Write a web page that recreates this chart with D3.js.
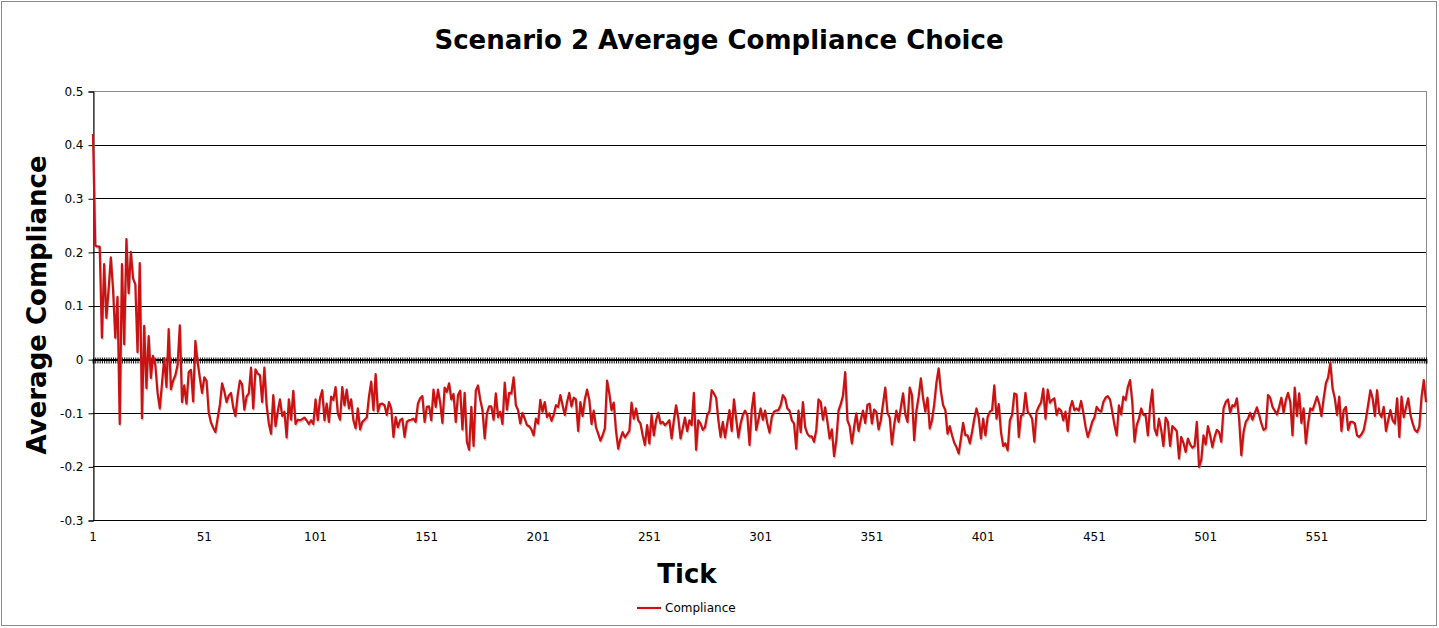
<!DOCTYPE html>
<html><head><meta charset="utf-8">
<script src="https://cdn.jsdelivr.net/npm/d3@7/dist/d3.min.js"></script>
<style>html,body{margin:0;padding:0;background:#fff;}svg{display:block;}</style>
</head><body>
<svg id="chart" width="1439" height="628"></svg>
<script>
const title = "Scenario 2 Average Compliance Choice";
const yTitle = "Average Compliance";
const xTitle = "Tick";
const seriesName = "Compliance";
const yTicks = [0.5, 0.4, 0.3, 0.2, 0.1, 0, -0.1, -0.2, -0.3];
const xTickLabels = [1, 51, 101, 151, 201, 251, 301, 351, 401, 451, 501, 551];
const compliance = [
0.42,0.212,0.21,0.21,0.04,0.177,0.077,0.13,0.19,0.13,
0.04,0.116,-0.121,0.177,0.028,0.224,0.123,0.2,0.15,0.14,
0.013,0.179,-0.11,0.062,-0.054,0.043,-0.035,0.006,-0.011,-0.063,
-0.092,-0.045,0.002,-0.052,0.056,-0.056,-0.04,-0.03,-0.011,0.063,
-0.08,-0.049,-0.083,-0.024,-0.02,-0.079,0.034,-0.005,-0.035,-0.063,
-0.034,-0.04,-0.1,-0.118,-0.128,-0.136,-0.11,-0.085,-0.045,-0.06,
-0.08,-0.068,-0.063,-0.09,-0.106,-0.067,-0.04,-0.047,-0.094,-0.07,
-0.064,-0.016,-0.092,-0.019,-0.027,-0.03,-0.08,-0.016,-0.086,-0.12,
-0.139,-0.067,-0.125,-0.098,-0.075,-0.106,-0.098,-0.146,-0.075,-0.113,
-0.059,-0.121,-0.113,-0.114,-0.112,-0.109,-0.114,-0.121,-0.114,-0.121,
-0.075,-0.114,-0.073,-0.058,-0.114,-0.083,-0.117,-0.07,-0.076,-0.052,
-0.101,-0.113,-0.052,-0.086,-0.057,-0.092,-0.075,-0.114,-0.129,-0.092,
-0.131,-0.117,-0.113,-0.109,-0.07,-0.042,-0.095,-0.028,-0.098,-0.084,
-0.083,-0.086,-0.104,-0.08,-0.092,-0.145,-0.108,-0.127,-0.114,-0.111,
-0.145,-0.117,-0.114,-0.113,-0.111,-0.117,-0.083,-0.073,-0.069,-0.117,
-0.089,-0.088,-0.114,-0.057,-0.089,-0.057,-0.081,-0.119,-0.053,-0.061,
-0.045,-0.075,-0.065,-0.117,-0.067,-0.059,-0.131,-0.063,-0.154,-0.169,
-0.089,-0.162,-0.059,-0.049,-0.076,-0.095,-0.148,-0.101,-0.088,-0.088,
-0.113,-0.064,-0.108,-0.098,-0.121,-0.044,-0.094,-0.063,-0.064,-0.034,
-0.086,-0.095,-0.12,-0.1,-0.111,-0.123,-0.125,-0.131,-0.142,-0.111,
-0.12,-0.076,-0.098,-0.08,-0.108,-0.101,-0.115,-0.104,-0.086,-0.089,
-0.067,-0.086,-0.104,-0.08,-0.063,-0.088,-0.072,-0.075,-0.134,-0.08,
-0.106,-0.075,-0.057,-0.076,-0.121,-0.096,-0.127,-0.139,-0.152,-0.142,
-0.129,-0.04,-0.064,-0.095,-0.081,-0.134,-0.167,-0.148,-0.136,-0.146,
-0.14,-0.134,-0.081,-0.111,-0.092,-0.114,-0.12,-0.142,-0.16,-0.123,
-0.157,-0.104,-0.142,-0.114,-0.1,-0.12,-0.117,-0.123,-0.119,-0.114,
-0.148,-0.114,-0.086,-0.11,-0.148,-0.129,-0.109,-0.134,-0.114,-0.123,
-0.063,-0.169,-0.114,-0.12,-0.132,-0.127,-0.104,-0.097,-0.058,-0.064,
-0.072,-0.114,-0.145,-0.117,-0.146,-0.12,-0.095,-0.134,-0.075,-0.111,
-0.146,-0.12,-0.104,-0.096,-0.104,-0.16,-0.094,-0.063,-0.132,-0.113,
-0.092,-0.113,-0.096,-0.12,-0.137,-0.108,-0.098,-0.096,-0.095,-0.086,
-0.067,-0.073,-0.092,-0.096,-0.114,-0.12,-0.167,-0.096,-0.136,-0.08,
-0.127,-0.139,-0.144,-0.144,-0.154,-0.132,-0.075,-0.08,-0.113,-0.09,
-0.117,-0.148,-0.131,-0.181,-0.151,-0.096,-0.084,-0.068,-0.024,-0.114,
-0.125,-0.157,-0.127,-0.101,-0.134,-0.113,-0.096,-0.119,-0.085,-0.083,
-0.12,-0.094,-0.098,-0.131,-0.114,-0.083,-0.053,-0.1,-0.109,-0.159,
-0.123,-0.096,-0.117,-0.09,-0.064,-0.103,-0.117,-0.053,-0.067,-0.151,
-0.096,-0.07,-0.036,-0.073,-0.098,-0.072,-0.129,-0.114,-0.084,-0.044,
-0.017,-0.06,-0.086,-0.095,-0.139,-0.125,-0.142,-0.156,-0.164,-0.176,
-0.148,-0.119,-0.142,-0.142,-0.157,-0.136,-0.111,-0.092,-0.109,-0.148,
-0.111,-0.142,-0.108,-0.098,-0.095,-0.049,-0.111,-0.084,-0.136,-0.162,
-0.157,-0.17,-0.114,-0.104,-0.064,-0.066,-0.145,-0.106,-0.103,-0.063,
-0.098,-0.103,-0.111,-0.154,-0.098,-0.088,-0.081,-0.055,-0.111,-0.057,
-0.081,-0.076,-0.073,-0.104,-0.092,-0.096,-0.114,-0.098,-0.134,-0.092,
-0.078,-0.095,-0.092,-0.096,-0.078,-0.1,-0.126,-0.145,-0.132,-0.117,
-0.109,-0.089,-0.095,-0.098,-0.08,-0.072,-0.069,-0.075,-0.098,-0.123,
-0.142,-0.086,-0.103,-0.07,-0.076,-0.052,-0.039,-0.08,-0.154,-0.123,
-0.111,-0.092,-0.104,-0.104,-0.142,-0.089,-0.057,-0.129,-0.142,-0.111,
-0.132,-0.162,-0.109,-0.117,-0.162,-0.125,-0.129,-0.134,-0.185,-0.145,
-0.156,-0.173,-0.148,-0.159,-0.165,-0.162,-0.117,-0.201,-0.188,-0.142,
-0.159,-0.125,-0.142,-0.164,-0.145,-0.132,-0.136,-0.154,-0.092,-0.08,
-0.075,-0.1,-0.086,-0.088,-0.073,-0.111,-0.179,-0.136,-0.117,-0.111,
-0.1,-0.113,-0.101,-0.09,-0.104,-0.12,-0.132,-0.129,-0.067,-0.072,
-0.089,-0.096,-0.103,-0.089,-0.072,-0.1,-0.076,-0.063,-0.08,-0.142,
-0.053,-0.106,-0.064,-0.119,-0.092,-0.157,-0.12,-0.092,-0.095,-0.083,
-0.07,-0.083,-0.106,-0.073,-0.045,-0.034,-0.007,-0.055,-0.073,-0.104,
-0.07,-0.134,-0.095,-0.089,-0.132,-0.117,-0.117,-0.12,-0.142,-0.145,
-0.14,-0.132,-0.111,-0.085,-0.058,-0.073,-0.106,-0.058,-0.101,-0.108,
-0.089,-0.134,-0.114,-0.095,-0.114,-0.12,-0.073,-0.145,-0.07,-0.108,
-0.09,-0.073,-0.104,-0.12,-0.132,-0.136,-0.126,-0.07,-0.039,-0.08
];
const tickNumbers = compliance.map((d, i) => i + 1);

(function () {
const FONT = "'DejaVu Sans', Verdana, sans-serif";
const svg = d3.select("#chart");
const pL = 93, pR = 1426, pT = 91, pB = 520;

svg.append("rect").attr("x", 1.5).attr("y", 1.5).attr("width", 1435).attr("height", 624)
  .attr("fill", "#fff").attr("stroke", "#8a8a8a").attr("stroke-width", 1);

const x = d3.scalePoint().domain(tickNumbers).range([pL, pR]);
const y = d3.scaleLinear().domain([-0.3, 0.5]).range([pB, pT]);

// plot area border
svg.append("rect").attr("x", pL + 0.5).attr("y", pT + 0.5).attr("width", pR - pL).attr("height", pB - pT)
  .attr("fill", "none").attr("stroke", "#8a8a8a").attr("stroke-width", 1);

// gridlines
svg.append("g").selectAll("line").data(yTicks.filter(d => d !== 0.5)).join("line")
  .attr("x1", pL).attr("x2", pR)
  .attr("y1", d => Math.round(y(d)) + 0.5).attr("y2", d => Math.round(y(d)) + 0.5)
  .attr("stroke", "#000").attr("stroke-width", 1);

// y axis
const yAxis = d3.axisLeft(y).tickValues(yTicks).tickSize(5).tickPadding(5)
  .tickFormat(d => Math.abs(d) < 1e-9 ? "0" : String(+d.toFixed(1)));
const gy = svg.append("g").attr("transform", `translate(${pL + 0.5},0.5)`).call(yAxis);
gy.select(".domain").attr("stroke", "#000");
gy.selectAll(".tick line").attr("stroke", "#000");
gy.selectAll("text").attr("font-family", FONT).attr("font-size", 12).attr("fill", "#000");

// x axis along zero with category tick marks
const zeroY = Math.round(y(0)) + 0.5;
const gx = svg.append("g").attr("transform", `translate(0,${zeroY})`)
  .call(d3.axisBottom(x).tickValues(tickNumbers).tickSize(4).tickFormat(""));
gx.select(".domain").attr("stroke", "#000").attr("stroke-width", 1.8);
gx.selectAll(".tick line").attr("stroke", "#000").attr("stroke-width", 1).attr("y1", -2);

// x tick labels at bottom
svg.append("g").selectAll("text").data(xTickLabels).join("text")
  .attr("x", d => x(d)).attr("y", pB + 21)
  .attr("text-anchor", "middle").attr("font-family", FONT).attr("font-size", 12)
  .text(d => d);

// line with shadow
const line = d3.line().x((d, i) => x(tickNumbers[i])).y(d => y(d));
svg.append("path").datum(compliance).attr("d", line)
  .attr("fill", "none").attr("stroke", "#9a9a9a").attr("stroke-width", 2).attr("opacity", 0.55)
  .attr("stroke-linejoin", "round").attr("transform", "translate(0.8,1.6)");
svg.append("path").datum(compliance).attr("d", line)
  .attr("fill", "none").attr("stroke", "#cc1111").attr("stroke-width", 2.2)
  .attr("stroke-linejoin", "round");

// titles
svg.append("text").attr("x", 719).attr("y", 49).attr("text-anchor", "middle")
  .attr("font-family", FONT).attr("font-weight", "bold").attr("font-size", 26).text(title);
svg.append("text").attr("transform", "translate(46,305) rotate(-90)").attr("text-anchor", "middle")
  .attr("font-family", FONT).attr("font-weight", "bold").attr("font-size", 26).text(yTitle);
svg.append("text").attr("x", 687).attr("y", 583).attr("text-anchor", "middle")
  .attr("font-family", FONT).attr("font-weight", "bold").attr("font-size", 26).text(xTitle);

// legend
svg.append("line").attr("x1", 637).attr("x2", 661).attr("y1", 608).attr("y2", 608)
  .attr("stroke", "#cc1111").attr("stroke-width", 2.2);
svg.append("text").attr("x", 665).attr("y", 612).attr("font-family", FONT).attr("font-size", 12)
  .text(seriesName);
})();
</script>
</body></html>
